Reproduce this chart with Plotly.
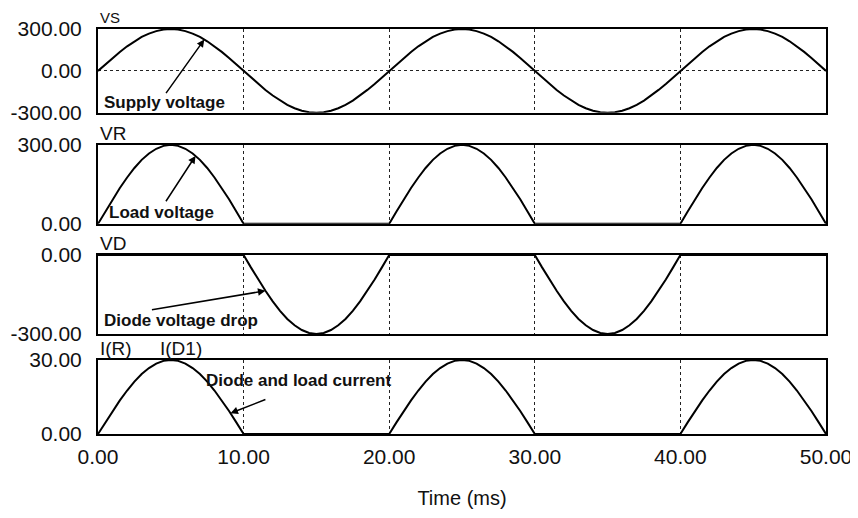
import plotly.graph_objects as go
from plotly.subplots import make_subplots

# ---- data (0.5 ms steps, 0 .. 50 ms) ----
time_ms = [k * 0.5 for k in range(101)]
vs = [0, 47, 93, 136, 176, 212, 243, 267, 285, 296, 300, 296, 285, 267, 243, 212, 176, 136, 93, 47,
      0, -47, -93, -136, -176, -212, -243, -267, -285, -296, -300, -296, -285, -267, -243, -212, -176, -136, -93, -47,
      0, 47, 93, 136, 176, 212, 243, 267, 285, 296, 300, 296, 285, 267, 243, 212, 176, 136, 93, 47,
      0, -47, -93, -136, -176, -212, -243, -267, -285, -296, -300, -296, -285, -267, -243, -212, -176, -136, -93, -47,
      0, 47, 93, 136, 176, 212, 243, 267, 285, 296, 300, 296, 285, 267, 243, 212, 176, 136, 93, 47,
      0]
vr = [0, 47, 93, 136, 176, 212, 243, 267, 285, 296, 300, 296, 285, 267, 243, 212, 176, 136, 93, 47,
      0, 0, 0, 0, 0, 0, 0, 0, 0, 0, 0, 0, 0, 0, 0, 0, 0, 0, 0, 0,
      0, 47, 93, 136, 176, 212, 243, 267, 285, 296, 300, 296, 285, 267, 243, 212, 176, 136, 93, 47,
      0, 0, 0, 0, 0, 0, 0, 0, 0, 0, 0, 0, 0, 0, 0, 0, 0, 0, 0, 0,
      0, 47, 93, 136, 176, 212, 243, 267, 285, 296, 300, 296, 285, 267, 243, 212, 176, 136, 93, 47,
      0]
vd = [0, 0, 0, 0, 0, 0, 0, 0, 0, 0, 0, 0, 0, 0, 0, 0, 0, 0, 0, 0,
      0, -47, -93, -136, -176, -212, -243, -267, -285, -296, -300, -296, -285, -267, -243, -212, -176, -136, -93, -47,
      0, 0, 0, 0, 0, 0, 0, 0, 0, 0, 0, 0, 0, 0, 0, 0, 0, 0, 0, 0,
      0, -47, -93, -136, -176, -212, -243, -267, -285, -296, -300, -296, -285, -267, -243, -212, -176, -136, -93, -47,
      0, 0, 0, 0, 0, 0, 0, 0, 0, 0, 0, 0, 0, 0, 0, 0, 0, 0, 0, 0,
      0]
i_load = [0, 4.7, 9.3, 13.6, 17.6, 21.2, 24.3, 26.7, 28.5, 29.6, 30, 29.6, 28.5, 26.7, 24.3, 21.2, 17.6, 13.6, 9.3, 4.7,
          0, 0, 0, 0, 0, 0, 0, 0, 0, 0, 0, 0, 0, 0, 0, 0, 0, 0, 0, 0,
          0, 4.7, 9.3, 13.6, 17.6, 21.2, 24.3, 26.7, 28.5, 29.6, 30, 29.6, 28.5, 26.7, 24.3, 21.2, 17.6, 13.6, 9.3, 4.7,
          0, 0, 0, 0, 0, 0, 0, 0, 0, 0, 0, 0, 0, 0, 0, 0, 0, 0, 0, 0,
          0, 4.7, 9.3, 13.6, 17.6, 21.2, 24.3, 26.7, 28.5, 29.6, 30, 29.6, 28.5, 26.7, 24.3, 21.2, 17.6, 13.6, 9.3, 4.7,
          0]

panel_titles = ["VS", "VR", "VD", "I(R)"]
y_ranges = [[-300, 300], [0, 300], [-300, 0], [0, 30]]
y_tickvals = [[-300, 0, 300], [0, 300], [-300, 0], [0, 30]]
y_ticktext = [["-300.00", "0.00", "300.00"], ["0.00", "300.00"],
              ["-300.00", "0.00"], ["0.00", "30.00"]]
x_tickvals = [0, 10, 20, 30, 40, 50]
x_ticktext = ["0.00", "10.00", "20.00", "30.00", "40.00", "50.00"]
labels = ["Supply voltage", "Load voltage", "Diode voltage drop", "Diode and load current"]

series = [vs, vr, vd, i_load]
domains = [[0.793, 1.0], [0.519, 0.714], [0.247, 0.442], [0.0, 0.183]]

fig = make_subplots(rows=4, cols=1, shared_xaxes=True)
for k, s in enumerate(series):
    fig.add_trace(go.Scatter(x=time_ms, y=s, mode="lines",
                             line=dict(color="black", width=2),
                             showlegend=False, hoverinfo="skip"), row=k + 1, col=1)

FONT = "Liberation Sans"
tick_font = dict(family=FONT, size=21, color="#111")
for k in range(4):
    yname = "yaxis" if k == 0 else f"yaxis{k+1}"
    xname = "xaxis" if k == 0 else f"xaxis{k+1}"
    fig.layout[yname].update(
        domain=domains[k], range=y_ranges[k], tickvals=y_tickvals[k], ticktext=y_ticktext[k],
        showline=True, mirror=True, linecolor="black", linewidth=2, ticks="",
        showgrid=(k == 0), gridcolor="#222", gridwidth=1, griddash="dot", automargin=False,
        zeroline=False, tickfont=tick_font, ticklabelstandoff=10, fixedrange=True)
    fig.layout[xname].update(
        range=[0, 50], tickvals=x_tickvals, ticktext=x_ticktext, automargin=False,
        showline=True, mirror=True, linecolor="black", linewidth=2, ticks="",
        showgrid=True, gridcolor="#222", gridwidth=1, griddash="dot",
        zeroline=False, tickfont=tick_font, showticklabels=(k == 3), fixedrange=True)

fig.layout.xaxis4.update(title=dict(text="Time (ms)", font=dict(family=FONT, size=20, color="#111"),
                                    standoff=24), ticklabelstandoff=3)

ann = []
for k, t in enumerate(panel_titles):
    yd = "y domain" if k == 0 else f"y{k+1} domain"
    ann.append(dict(text=t, xref="paper", yref=yd, x=0.0, y=1, xanchor="left", yanchor="bottom",
                    showarrow=False, xshift=0, yshift=1 if k == 0 else -1,
                    font=dict(family=FONT, size=15 if k == 0 else 19, color="#111")))
ann.append(dict(text="I(D1)", xref="paper", yref="y4 domain", x=0.0, y=1, xanchor="left", yanchor="bottom",
                showarrow=False, xshift=60, yshift=-1, font=dict(family=FONT, size=19, color="#111")))

lab_font = dict(family=FONT, size=17, color="#111", weight="bold")
text_pos = [(0, -229, 4), (0, 42, 9), (0, -247, 4), (7.5, 21.5, -3)]
arrows = [((7.3, 225), (4.6, -170)), ((6.7, 258), (4.6, 80)),
          ((11.5, -136), (3.6, -209)), ((9.1, 8.4), (11.6, 14.2))]
for k in range(4):
    xr = "x" if k == 0 else f"x{k+1}"
    yr = "y" if k == 0 else f"y{k+1}"
    tx0, ty0, xs = text_pos[k]
    ann.append(dict(text=labels[k], xref=xr, yref=yr, x=tx0, y=ty0, xshift=xs,
                    xanchor="left", yanchor="middle", showarrow=False, font=lab_font))
    (hx, hy), (tx, ty) = arrows[k]
    ann.append(dict(text="", xref=xr, yref=yr, axref=xr, ayref=yr, x=hx, y=hy, ax=tx, ay=ty,
                    showarrow=True, arrowhead=2, arrowsize=1, arrowwidth=1.5, arrowcolor="black"))

fig.update_layout(width=850, height=510, margin=dict(l=90, r=32, t=21, b=84),
                  paper_bgcolor="white", plot_bgcolor="white", annotations=ann,
                  font=dict(family=FONT, color="#111"))

fig.write_html("out.html")
